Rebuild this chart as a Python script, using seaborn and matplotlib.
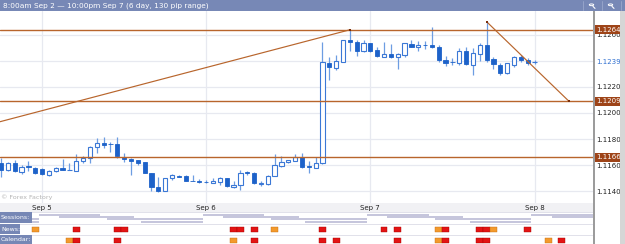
import numpy as np
import pandas as pd
import matplotlib
matplotlib.use("Agg")
import matplotlib.pyplot as plt
from matplotlib.patches import Rectangle, Circle
from matplotlib.lines import Line2D
from matplotlib.transforms import blended_transform_factory
import seaborn as sns

# ---------------- data ----------------
title_text = "8:00am Sep 2 \u2014 10:00pm Sep 7 (6 day, 130 pip range)"
hours = list(range(79))  # hourly candles, 0 = Sep 4 18:00

opens = [
    1.11613, 1.11562, 1.11613, 1.11548, 1.11592, 1.11579, 1.11567, 1.11523, 1.11554, 1.11575,
    1.11562, 1.11556, 1.11633, 1.11652, 1.11736, 1.11767, 1.11762, 1.11762, 1.11664, 1.11644,
    1.11638, 1.11621, 1.11536, 1.11433, 1.11402, 1.11498, 1.11513, 1.11518, 1.11479, 1.11475,
    1.11472, 1.11464, 1.11472, 1.11498, 1.11433, 1.11446, 1.11548, 1.11541, 1.11456, 1.11454,
    1.11515, 1.11592, 1.11621, 1.11633, 1.11664, 1.11590, 1.11579, 1.11613, 1.12387, 1.12348,
    1.12395, 1.12562, 1.12544, 1.12477, 1.12536, 1.12485, 1.12433, 1.12452, 1.12428, 1.12446,
    1.12531, 1.12505, 1.12523, 1.12523, 1.12505, 1.12408, 1.12395, 1.12382, 1.12479, 1.12369,
    1.12454, 1.12523, 1.12413, 1.12369, 1.12305, 1.12369, 1.12428, 1.12408, 1.12390]
highs = [
    1.11652, 1.11625, 1.11638, 1.11600, 1.11633, 1.11587, 1.11577, 1.11562, 1.11582, 1.11644,
    1.11618, 1.11685, 1.11669, 1.11746, 1.11805, 1.11818, 1.11779, 1.11818, 1.11690, 1.11652,
    1.11642, 1.11623, 1.11538, 1.11505, 1.11500, 1.11528, 1.11523, 1.11521, 1.11523, 1.11490,
    1.11485, 1.11498, 1.11510, 1.11502, 1.11477, 1.11562, 1.11554, 1.11546, 1.11477, 1.11523,
    1.11682, 1.11672, 1.11640, 1.11682, 1.11690, 1.11631, 1.11664, 1.12548, 1.12433, 1.12446,
    1.12564, 1.12640, 1.12562, 1.12562, 1.12538, 1.12510, 1.12548, 1.12528, 1.12459, 1.12541,
    1.12562, 1.12556, 1.12556, 1.12659, 1.12523, 1.12438, 1.12421, 1.12498, 1.12505, 1.12498,
    1.12541, 1.12702, 1.12433, 1.12382, 1.12387, 1.12438, 1.12446, 1.12421, 1.12408]
lows = [
    1.11505, 1.11554, 1.11550, 1.11528, 1.11556, 1.11531, 1.11523, 1.11515, 1.11548, 1.11559,
    1.11559, 1.11554, 1.11618, 1.11618, 1.11690, 1.11728, 1.11702, 1.11652, 1.11625, 1.11523,
    1.11600, 1.11538, 1.11402, 1.11392, 1.11400, 1.11485, 1.11505, 1.11475, 1.11475, 1.11459,
    1.11459, 1.11459, 1.11446, 1.11433, 1.11421, 1.11408, 1.11523, 1.11454, 1.11438, 1.11446,
    1.11512, 1.11587, 1.11613, 1.11631, 1.11579, 1.11541, 1.11575, 1.11608, 1.12254, 1.12331,
    1.12392, 1.12477, 1.12441, 1.12472, 1.12469, 1.12433, 1.12431, 1.12423, 1.12336, 1.12433,
    1.12508, 1.12479, 1.12490, 1.12500, 1.12395, 1.12362, 1.12369, 1.12369, 1.12369, 1.12292,
    1.12402, 1.12395, 1.12336, 1.12292, 1.12300, 1.12356, 1.12395, 1.12369, 1.12377]
closes = [
    1.11562, 1.11618, 1.11556, 1.11582, 1.11582, 1.11541, 1.11528, 1.11554, 1.11575, 1.11562,
    1.11564, 1.11633, 1.11656, 1.11741, 1.11767, 1.11754, 1.11759, 1.11669, 1.11644, 1.11633,
    1.11618, 1.11541, 1.11433, 1.11402, 1.11498, 1.11521, 1.11510, 1.11477, 1.11477, 1.11469,
    1.11470, 1.11479, 1.11498, 1.11438, 1.11446, 1.11541, 1.11536, 1.11459, 1.11462, 1.11515,
    1.11600, 1.11625, 1.11638, 1.11664, 1.11587, 1.11587, 1.11613, 1.12390, 1.12356, 1.12400,
    1.12562, 1.12548, 1.12477, 1.12536, 1.12477, 1.12441, 1.12452, 1.12428, 1.12452, 1.12536,
    1.12510, 1.12523, 1.12521, 1.12505, 1.12408, 1.12387, 1.12392, 1.12479, 1.12375, 1.12459,
    1.12523, 1.12408, 1.12377, 1.12310, 1.12382, 1.12428, 1.12408, 1.12382, 1.12392]

day_labels = ["Sep 5", "Sep 6", "Sep 7", "Sep 8"]
day_starts = [6, 30, 54, 78]
price_ticks = [1.1140, 1.1160, 1.1180, 1.1200, 1.1220, 1.1240, 1.1260]
price_tick_labels = ["1.1140", "1.1160", "1.1180", "1.1200", "1.1220", "", "1.1260"]
levels = [1.1264, 1.1209, 1.1166]
level_labels = ["1.1264", "1.1209", "1.1166"]
current_price = 1.1239
current_label = "1.1239"
trend1_x = [-0.15, 51]
trend1_y = [1.11933, 1.12640]
trend2_x = [71, 83]
trend2_y = [1.12702, 1.12092]

session_start = [0, 3, 10, 15]   # hour of day
session_end = [9, 14, 24, 24]
session_days = [-1, 0, 1, 2, 3]

news_hours = [5, 11, 17, 18, 34, 35, 37, 40, 47, 56, 58, 64, 65, 70, 71, 72, 77]
news_impact = ["m", "h", "h", "h", "h", "h", "h", "m", "h", "h", "h", "m", "h", "h", "h", "m", "h"]
cal_hours = [10, 11, 17, 34, 37, 47, 49, 58, 64, 65, 70, 71, 80, 82]
cal_impact = ["m", "h", "h", "m", "h", "h", "h", "h", "m", "h", "h", "h", "m", "h"]

# ---------------- style ----------------
sns.set_style("white")
plt.rcParams["font.family"] = ["DejaVu Sans"]

W, H = 625, 244
fig = plt.figure(figsize=(W / 100, H / 100), dpi=100)
fig.patch.set_facecolor("white")

def fy(px):
    return 1 - px / H

XMIN, XMAX = -0.15, 86.55
PW = 593
ax = fig.add_axes([0, fy(203), PW / W, (203 - 11) / H])
axb = fig.add_axes([0, 0, PW / W, 41 / H])

LEVEL_C = "#b8652c"
BOX_C = "#9e4418"
GRID_C = "#e7e9f0"
FILL_C = "#1d62c9"
EDGE_C = "#3b78d6"
WICK_C = "#6d9de2"

df = pd.DataFrame(dict(t=hours, o=opens, h=highs, l=lows, c=closes))
up = df.c >= df.o
bot = np.minimum(df.o, df.c)
hgt = np.maximum((df.c - df.o).abs(), 0.00003)

ax.set_xlim(XMIN, XMAX)
ax.set_ylim(1.113077, 1.127846)

for d in day_starts:
    ax.axvline(d, color=GRID_C, lw=0.9, zorder=0)
for p in price_ticks:
    ax.axhline(p, color=GRID_C, lw=0.9, zorder=0)

ax.vlines(df.t, df.l, df.h, color=WICK_C, lw=0.9, zorder=2)
ax.bar(df.t[up], hgt[up], bottom=bot[up], width=0.62, facecolor="white",
       edgecolor=EDGE_C, linewidth=0.8, zorder=3)
ax.bar(df.t[~up], hgt[~up], bottom=bot[~up], width=0.62, facecolor=FILL_C,
       edgecolor=FILL_C, linewidth=0.6, zorder=3)

for lv in levels:
    ax.axhline(lv, color=LEVEL_C, lw=1.0, zorder=4)

sns.lineplot(x=trend1_x, y=trend1_y, ax=ax, color=LEVEL_C, linewidth=0.85,
             estimator=None, sort=False, zorder=4)
sns.lineplot(x=trend2_x, y=trend2_y, ax=ax, color=LEVEL_C, linewidth=0.85,
             estimator=None, sort=False, zorder=4)
sns.scatterplot(x=trend1_x[1:] + trend2_x, y=trend1_y[1:] + trend2_y, ax=ax,
                marker="s", s=4, color="#7a2e0a", linewidth=0, zorder=5)

ax.yaxis.tick_right()
ax.set_yticks(price_ticks)
ax.set_yticklabels(price_tick_labels)
ax.tick_params(axis="y", length=0, pad=2.5, labelsize=5, labelcolor="#222222")
ax.set_xticks([])
for s in ax.spines.values():
    s.set_visible(False)

tr = blended_transform_factory(ax.transAxes, ax.transData)
for lv, lab in zip(levels, level_labels):
    ax.text(1.0 + 3 / PW, lv, lab, transform=tr, ha="left", va="center", fontsize=5,
            color="white", clip_on=False, zorder=8,
            bbox=dict(boxstyle="square,pad=0.2", fc=BOX_C, ec="none"))
ax.text(1.0 + 3 / PW, current_price, current_label, transform=tr, ha="left", va="center",
        fontsize=5, color="#2f6fd0", clip_on=False, zorder=8,
        bbox=dict(boxstyle="square,pad=0.35", fc="white", ec="none"))

ax.text(0.002, 0.015, "\u00a9 Forex Factory", transform=ax.transAxes, fontsize=4.6,
        color="#b4b4b4", ha="left", va="bottom")

# ---------------- bottom strip ----------------
axb.set_xlim(XMIN, XMAX)
axb.set_ylim(244, 203)
axb.axis("off")
axb.add_patch(Rectangle((XMIN, 203), XMAX - XMIN, 9, fc="#f1f1f4", ec="none", zorder=0))
for yy in (212.3, 223.5, 234.5):
    axb.axhline(yy, color="#dcdce6", lw=0.6, zorder=1)
for d, lab in zip(day_starts, day_labels):
    axb.text(d, 207.8, lab, ha="center", va="center", fontsize=5, color="#222222", zorder=3)

row_y = [213.5, 215.9, 218.3, 220.7]
for day in session_days:
    base = 6 + 24 * day
    for r, (a, b) in enumerate(zip(session_start, session_end)):
        axb.add_patch(Rectangle((base + a - 0.5, row_y[r]), b - a, 2.0,
                                fc="#c6c6dc", ec="none", zorder=2))

def icon(h, y, kind):
    fc = "#e31414" if kind == "h" else "#f39a2c"
    ec = "#a80000" if kind == "h" else "#c66c10"
    axb.add_patch(Rectangle((h - 0.5, y), 1.0, 5.6, fc=fc, ec=ec, lw=0.3, zorder=3))

for h, k in zip(news_hours, news_impact):
    icon(h, 226.8, k)
for h, k in zip(cal_hours, cal_impact):
    icon(h, 237.8, k)

trb = blended_transform_factory(axb.transAxes, axb.transData)
LAB_C = "#7687b5"
for lab, y0, y1, wpx in [("Sessions:", 212.3, 223.3, 32), ("News:", 224.0, 234.3, 20),
                         ("Calendar:", 235.0, 244, 32)]:
    axb.add_patch(Rectangle((0, y0), wpx / PW, y1 - y0, transform=trb, fc=LAB_C,
                            ec="none", zorder=5))
    axb.text(1 / PW, (y0 + y1) / 2, lab, transform=trb, fontsize=4.5, color="white",
             ha="left", va="center", zorder=6)

# ---------------- frame pieces ----------------
fig.patches.append(Rectangle((0, fy(11)), 1, 11 / H, transform=fig.transFigure,
                             fc="#7788b6", ec="none", zorder=0))
fig.text(3 / W, fy(5.6), title_text, fontsize=5.3, color="white", ha="left", va="center")
fig.patches.append(Rectangle((593 / W, 0), 2 / W, fy(11), transform=fig.transFigure,
                             fc="#9c9c9c", ec="none", zorder=0))
fig.patches.append(Rectangle((620 / W, 0), 5 / W, fy(11), transform=fig.transFigure,
                             fc="#d6d6d6", ec="none", zorder=0))
# title bar buttons (zoom icons)
for xb in (583, 602, 621):
    fig.lines.append(Line2D([xb / W, xb / W], [fy(10), fy(1)], transform=fig.transFigure,
                            color="#9aa8cc", lw=0.6))
for cx in (591.5, 610.5):
    fig.patches.append(Circle((cx / W, fy(4.8)), 2.2 / W, transform=fig.transFigure,
                              fc="none", ec="white", lw=0.7))
    fig.lines.append(Line2D([(cx + 1.5) / W, (cx + 3.5) / W], [fy(6.4), fy(8.4)],
                            transform=fig.transFigure, color="white", lw=0.8))

fig.savefig("out.png", dpi=100, facecolor="white")
